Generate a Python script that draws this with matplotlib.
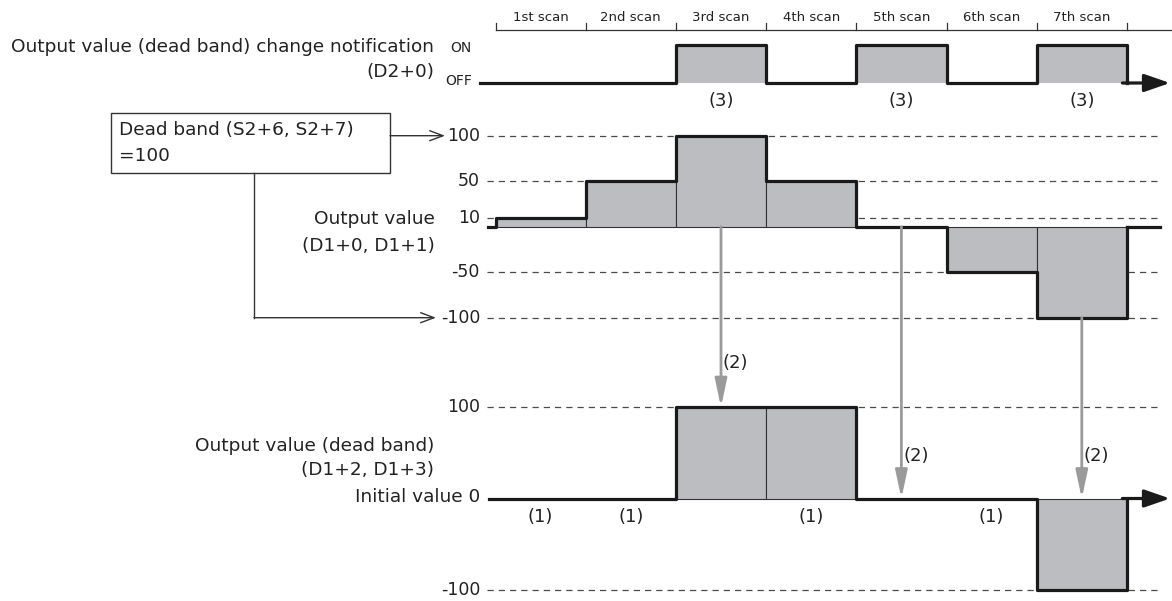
import numpy as np
import matplotlib
matplotlib.use('Agg')
import matplotlib.pyplot as plt
from matplotlib.patches import Rectangle, ConnectionPatch
from matplotlib import transforms

# Values
scan_labels = ['1st scan', '2nd scan', '3rd scan', '4th scan', '5th scan', '6th scan', '7th scan']
notify = [0, 0, 1, 0, 1, 0, 1]                      # D2+0 per scan
output_value = [10, 50, 100, 50, 0, -50, -100]      # D1+0, D1+1 per scan
deadband_value = [0, 0, 100, 100, 0, 0, -100]       # D1+2, D1+3 per scan
output_ticks = [100, 50, 10, -50, -100]
deadband_ticks = [100, -100]
notify_marks = [3, 5, 7]     # scans labelled (3)
keep_marks = [1, 2, 4, 6]    # scans labelled (1)
change_marks = [3, 5, 7]     # scans with arrows (2)
change_from = [0, 0, -100]   # output value level where arrow (2) starts
change_to = [100, 0, 0]      # dead band level where arrow (2) ends

W, H = 1172, 601
X0, SW = 495.5, 90.2          # pixel of scan start and scan width
FILL = '#bcbdc0'
INK = '#1a1a1a'
GRID = '#4a4a4a'
ARROW = '#9a9a9a'
TXT = '#222222'
FS = 13.3      # label text
FN = 12.5      # numbers
plt.rcParams['font.family'] = ['DejaVu Sans']

fig = plt.figure(figsize=(W / 100, H / 100), dpi=100)
lay = fig.add_axes([0, 0, 1, 1])
lay.set_xlim(0, W)
lay.set_ylim(H, 0)
lay.axis('off')


def px(p):
    return (p - X0) / SW


def panel(zero_px, ppu):
    ax = fig.add_axes([0, 0, 1, 1], facecolor='none')
    ax.set_xlim(px(0), px(W))
    ax.set_ylim((zero_px - H) / ppu, zero_px / ppu)
    ax.axis('off')
    return ax


ax_n = panel(83, 38)
ax_o = panel(226.7, 0.91)
ax_d = panel(498.5, 0.915)
scans = np.arange(len(scan_labels))

# scan ruler
lay.plot([X0, W], [29.5, 29.5], color='#333', lw=0.9)
for i in range(len(scan_labels) + 1):
    lay.plot([X0 + i * SW] * 2, [23, 29.5], color='#333', lw=0.9)
for i, lab in enumerate(scan_labels):
    lay.text(X0 + (i + 0.5) * SW, 17.5, lab, ha='center', va='center', fontsize=9.5, color=TXT)

# notification signal
ax_n.bar(scans + 0.5, notify, width=1, color=FILL, edgecolor='none')
xs = np.concatenate([[px(480)], scans, [len(scans)]])
ax_n.step(xs, np.concatenate([[0], notify, [0]]), where='post', color=INK, lw=2.3)
ax_n.annotate('', xy=(px(1170), 0), xytext=(len(scans) - 0.05, 0),
              arrowprops=dict(arrowstyle='-|>,head_length=1.3,head_width=0.45', color=INK, lw=2.3,
                              mutation_scale=12, shrinkA=0, shrinkB=0))
for s in notify_marks:
    ax_n.text(s - 0.5, -0.47, '(3)', ha='center', va='center', fontsize=13, color=TXT)
tn = transforms.blended_transform_factory(lay.transData, ax_n.transData)
lay.text(434, 47, 'Output value (dead band) change notification', ha='right', va='center', fontsize=FS, color=TXT)
lay.text(434, 72, '(D2+0)', ha='right', va='center', fontsize=FS, color=TXT)
ax_n.text(450, 0.93, 'ON', transform=tn, ha='left', va='center', fontsize=10, color=TXT)
ax_n.text(445, 0.05, 'OFF', transform=tn, ha='left', va='center', fontsize=10, color=TXT)


def value_panel(ax, vals, ticks, start_px):
    ax.hlines(ticks, px(487), px(1160), colors=GRID, lw=0.9, linestyles=(0, (5, 4)), zorder=1)
    ax.bar(scans + 0.5, vals, width=1, color=FILL, edgecolor='#333', lw=0.8, zorder=2)
    xs = np.concatenate([[px(start_px)], scans, [len(scans)]])
    ax.step(xs, np.concatenate([[0], vals, [0]]), where='post', color=INK, lw=2.3, zorder=3)
    t = transforms.blended_transform_factory(lay.transData, ax.transData)
    for v in ticks:
        ax.text(480, v, str(v), transform=t, ha='right', va='center', fontsize=FN, color=TXT)
    return t


# output value panel
value_panel(ax_o, output_value, output_ticks, 488)
ax_o.plot([len(scans), px(1160)], [0, 0], color=INK, lw=2.3, zorder=3)
lay.text(435, 219, 'Output value', ha='right', va='center', fontsize=FS, color=TXT)
lay.text(435, 246, '(D1+0, D1+1)', ha='right', va='center', fontsize=FS, color=TXT)

# dead band box and its arrows
lay.add_patch(Rectangle((111, 113), 279, 60, facecolor='white', edgecolor='#333', lw=1))
lay.text(119, 130, 'Dead band (S2+6, S2+7)', ha='left', va='center', fontsize=FS, color=TXT)
lay.text(119, 156, '=100', ha='left', va='center', fontsize=FS, color=TXT)
to_ = transforms.blended_transform_factory(lay.transData, ax_o.transData)
ax_o.annotate('', xy=(445, output_ticks[0]), xytext=(390, output_ticks[0]), xycoords=to_, textcoords=to_,
              arrowprops=dict(arrowstyle='->,head_length=0.8,head_width=0.3', color='#333', lw=1,
                              shrinkA=0, shrinkB=0, mutation_scale=12))
ax_o.plot([254, 254], [(226.7 - 173) / 0.91, output_ticks[-1]], transform=to_, color='#333', lw=1)
ax_o.annotate('', xy=(436, output_ticks[-1]), xytext=(254, output_ticks[-1]), xycoords=to_, textcoords=to_,
              arrowprops=dict(arrowstyle='->,head_length=0.8,head_width=0.3', color='#333', lw=1,
                              shrinkA=0, shrinkB=0, mutation_scale=12))

# dead band output panel
value_panel(ax_d, deadband_value, deadband_ticks, 489)
ax_d.annotate('', xy=(px(1170), 0), xytext=(len(scans) - 0.05, 0),
              arrowprops=dict(arrowstyle='-|>,head_length=1.3,head_width=0.45', color=INK, lw=2.3,
                              mutation_scale=12, shrinkA=0, shrinkB=0))
lay.text(434, 446, 'Output value (dead band)', ha='right', va='center', fontsize=FS, color=TXT)
lay.text(434, 470, '(D1+2, D1+3)', ha='right', va='center', fontsize=FS, color=TXT)
lay.text(480, 497, 'Initial value 0', ha='right', va='center', fontsize=FS, color=TXT)
for s in keep_marks:
    ax_d.text(s - 0.5, -20, '(1)', ha='center', va='center', fontsize=13, color=TXT)

# arrows (2)
for s, a, b in zip(change_marks, change_from, change_to):
    con = ConnectionPatch(xyA=(s - 0.5, a), coordsA=ax_o.transData,
                          xyB=(s - 0.5, b), coordsB=ax_d.transData,
                          arrowstyle='-|>,head_length=1.4,head_width=0.3', color=ARROW, lw=2,
                          mutation_scale=12, shrinkA=0, shrinkB=0, zorder=5)
    fig.add_artist(con)
lab_y = [363, 456, 456]
for s, y in zip(change_marks, lab_y):
    lay.text(X0 + (s - 0.5) * SW + 2, y, '(2)', ha='left', va='center', fontsize=13, color=TXT)

fig.savefig('out.png', dpi=100)
